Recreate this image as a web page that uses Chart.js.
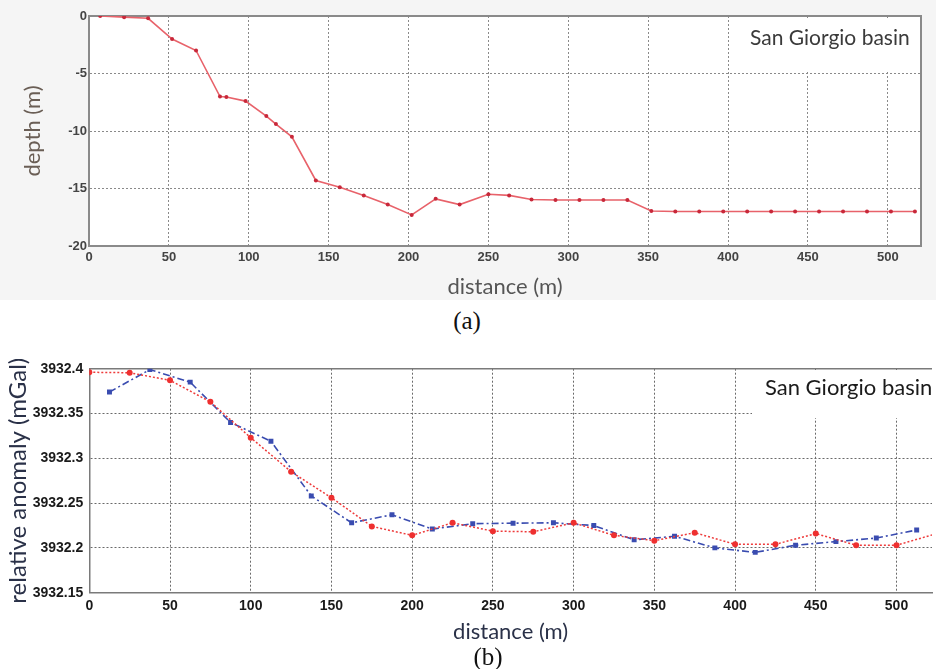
<!DOCTYPE html>
<html>
<head>
<meta charset="utf-8">
<script src="https://cdn.jsdelivr.net/npm/chart.js@4.4.1/dist/chart.umd.min.js"></script>
<style>
  html, body { margin: 0; padding: 0; background: #ffffff; }
  body { width: 936px; height: 669px; position: relative; overflow: hidden; }
  #bgA { position: absolute; left: 0; top: 0; width: 936px; height: 300px; background: #f5f5f5; }
  #cA { position: absolute; left: 0; top: 0; }
  #cB { position: absolute; left: 0; top: 340px; }
  .lab { position: absolute; font-family: "Liberation Serif", "DejaVu Serif", serif; font-size: 25px; color: #111; transform: translate(-50%, -50%); white-space: nowrap; }
</style>
</head>
<body>
<div id="bgA"></div>
<canvas id="cA" width="936" height="300"></canvas>
<canvas id="cB" width="936" height="329"></canvas>
<div class="lab" style="left:467px; top:321px;">(a)</div>
<div class="lab" style="left:488px; top:657px;">(b)</div>
<script>
// ---------- data: (a) depth profile ----------
const distA  = [7, 22, 37, 52, 67, 82, 86, 98, 111, 117, 127, 142, 157, 172, 187, 202, 217, 232, 250, 263, 277, 292, 307, 322, 337, 352, 367, 382, 397, 412, 427, 442, 457, 472, 487, 502, 517];
const depthA = [0, -0.1, -0.2, -2.0, -3.0, -7.0, -7.05, -7.4, -8.7, -9.4, -10.5, -14.3, -14.9, -15.6, -16.4, -17.3, -15.9, -16.4, -15.5, -15.6, -15.95, -16, -16, -16, -16, -16.95, -17, -17, -17, -17, -17, -17, -17, -17, -17, -17, -17];
const xTicksA = [0, 50, 100, 150, 200, 250, 300, 350, 400, 450, 500];
const yTicksA = [-20, -15, -10, -5, 0];

// ---------- data: (b) relative anomaly ----------
const distRed  = [0, 25, 50, 75, 100, 125, 150, 175, 200, 225, 250, 275, 300, 325, 350, 375, 400, 425, 450, 475, 500, 525];
const anomRed  = [3932.396, 3932.3955, 3932.387, 3932.363, 3932.323, 3932.285, 3932.256, 3932.224, 3932.214, 3932.228, 3932.2187, 3932.218, 3932.228, 3932.214, 3932.208, 3932.217, 3932.204, 3932.204, 3932.216, 3932.203, 3932.203, 3932.216];
const distBlue = [12.5, 37.5, 62.5, 87.5, 112.5, 137.5, 162.5, 187.5, 212.5, 237.5, 262.5, 287.5, 312.5, 337.5, 362.5, 387.5, 412.5, 437.5, 462.5, 487.5, 512.5];
const anomBlue = [3932.374, 3932.399, 3932.385, 3932.340, 3932.319, 3932.258, 3932.228, 3932.237, 3932.221, 3932.227, 3932.2276, 3932.228, 3932.225, 3932.209, 3932.213, 3932.200, 3932.195, 3932.203, 3932.207, 3932.211, 3932.220];
const xTicksB = [0, 50, 100, 150, 200, 250, 300, 350, 400, 450, 500];
const yTicksB = [3932.15, 3932.2, 3932.25, 3932.3, 3932.35, 3932.4];

const boxLabel = "San Giorgio basin";

function pts(xs, ys) { return xs.map((x, i) => ({ x: x, y: ys[i] })); }

function framePlugin(opts) {
  return {
    id: 'frame',
    beforeDraw(chart) {
      const ctx = chart.ctx, a = chart.chartArea;
      ctx.save();
      ctx.fillStyle = '#ffffff';
      ctx.fillRect(a.left, a.top, a.right - a.left, a.bottom - a.top);
      ctx.restore();
    },
    beforeDatasetsDraw(chart) {
      const ctx = chart.ctx, a = chart.chartArea;
      ctx.save();
      // label box
      ctx.fillStyle = '#ffffff';
      ctx.fillRect(opts.box[0], opts.box[1], opts.box[2], opts.box[3]);
      ctx.fillStyle = opts.textColor;
      ctx.font = opts.font;
      ctx.textBaseline = 'middle';
      ctx.textAlign = 'left';
      ctx.fillText(boxLabel, opts.textX, opts.textY);
      // top / right borders
      ctx.strokeStyle = opts.borderColor;
      ctx.lineWidth = opts.borderWidth;
      ctx.beginPath();
      ctx.moveTo(a.left, a.top);
      ctx.lineTo(a.right, a.top);
      if (opts.right) { ctx.lineTo(a.right, a.bottom); }
      ctx.stroke();
      ctx.restore();
    }
  };
}

Chart.defaults.animation = false;

// ---------- chart (a) ----------
new Chart(document.getElementById('cA'), {
  type: 'scatter',
  data: {
    datasets: [{
      data: pts(distA, depthA),
      showLine: true,
      borderColor: '#e8626a',
      borderWidth: 1.6,
      pointRadius: 2,
      pointBackgroundColor: '#c8283a',
      pointBorderColor: '#c8283a',
      pointBorderWidth: 0,
      tension: 0
    }]
  },
  options: {
    responsive: false,
    layout: { padding: { top: 16, right: 15, left: 0, bottom: 0 } },
    plugins: { legend: { display: false }, tooltip: { enabled: false } },
    scales: {
      x: {
        type: 'linear', min: 0, max: 520.8,
        afterFit: s => { s.height = 54; },
        afterBuildTicks: s => { s.ticks = xTicksA.map(v => ({ value: v })); },
        ticks: { color: '#444444', padding: 4, font: { family: 'Liberation Sans', size: 13, weight: 'bold' } },
        grid: { color: '#8a8a8a', lineWidth: 1, drawTicks: false },
        border: { color: '#8a8a8a', width: 2, dash: [2, 2] },
        title: { display: true, text: 'distance (m)', color: '#555555', padding: { top: 0, bottom: 0 }, font: { family: 'Lato', size: 22 } }
      },
      y: {
        type: 'linear', min: -20, max: 0,
        afterFit: s => { s.width = 89; },
        afterBuildTicks: s => { s.ticks = yTicksA.map(v => ({ value: v })); },
        ticks: { color: '#444444', padding: 2, font: { family: 'Liberation Sans', size: 13, weight: 'bold' } },
        grid: { color: '#8a8a8a', lineWidth: 1, drawTicks: false },
        border: { color: '#8a8a8a', width: 2, dash: [2, 2] },
        title: { display: true, text: 'depth (m)', color: '#6a5e55', padding: { top: 20, bottom: 0 }, font: { family: 'Lato', size: 22 } }
      }
    }
  },
  plugins: [framePlugin({ box: [730, 18, 189, 52], textX: 750, textY: 38, font: '21px Lato', textColor: '#3a3a3a', borderColor: '#8a8a8a', borderWidth: 2, right: true })]
});

// ---------- chart (b) ----------
new Chart(document.getElementById('cB'), {
  type: 'scatter',
  data: {
    datasets: [{
      data: pts(distRed, anomRed),
      showLine: true,
      borderColor: '#ee3b3b',
      borderWidth: 1.5,
      borderDash: [2, 2],
      pointStyle: 'circle',
      pointRadius: 3,
      pointBackgroundColor: '#ee3030',
      pointBorderColor: '#ee3030',
      pointBorderWidth: 0,
      tension: 0
    }, {
      data: pts(distBlue, anomBlue),
      showLine: true,
      borderColor: '#3a4cb0',
      borderWidth: 1.6,
      borderDash: [7, 3, 2, 3],
      pointStyle: 'rect',
      pointRadius: 3.5,
      pointBackgroundColor: '#3a4cb0',
      pointBorderColor: '#3a4cb0',
      pointBorderWidth: 0,
      tension: 0
    }]
  },
  options: {
    responsive: false,
    layout: { padding: { top: 28.7, right: 0, left: 0, bottom: 0 } },
    plugins: { legend: { display: false }, tooltip: { enabled: false } },
    scales: {
      x: {
        type: 'linear', min: 0, max: 522,
        afterFit: s => { s.height = 76.3; },
        afterBuildTicks: s => { s.ticks = xTicksB.map(v => ({ value: v })); },
        ticks: { color: '#1a1a1a', padding: 5, font: { family: 'Liberation Sans', size: 14, weight: 'bold' } },
        grid: { color: '#6a6a6a', lineWidth: 1, drawTicks: false },
        border: { color: '#7a7a7a', width: 1.5, dash: [2, 2] },
        title: { display: true, text: 'distance (m)', color: '#2a3148', padding: { top: 0, bottom: 24 }, font: { family: 'Lato', size: 22 } }
      },
      y: {
        type: 'linear', min: 3932.15, max: 3932.4,
        afterFit: s => { s.width = 89.3; },
        afterBuildTicks: s => { s.ticks = yTicksB.map(v => ({ value: v })); },
        ticks: { color: '#1a1a1a', padding: 6, font: { family: 'Liberation Sans', size: 14, weight: 'bold' },
                 callback: v => String(Number(v.toFixed(2))) },
        grid: { color: '#6a6a6a', lineWidth: 1, drawTicks: false },
        border: { color: '#7a7a7a', width: 1.5, dash: [2, 2] },
        title: { display: true, text: 'relative anomaly (mGal)', color: '#2a3148', padding: { top: 4, bottom: 0 }, font: { family: 'Lato', size: 24 } }
      }
    }
  },
  plugins: [framePlugin({ box: [752, 30, 184, 48], textX: 765, textY: 48, font: '22px Lato', textColor: '#1a1a1a', borderColor: '#7a7a7a', borderWidth: 1.5, right: false })]
});
</script>
</body>
</html>
